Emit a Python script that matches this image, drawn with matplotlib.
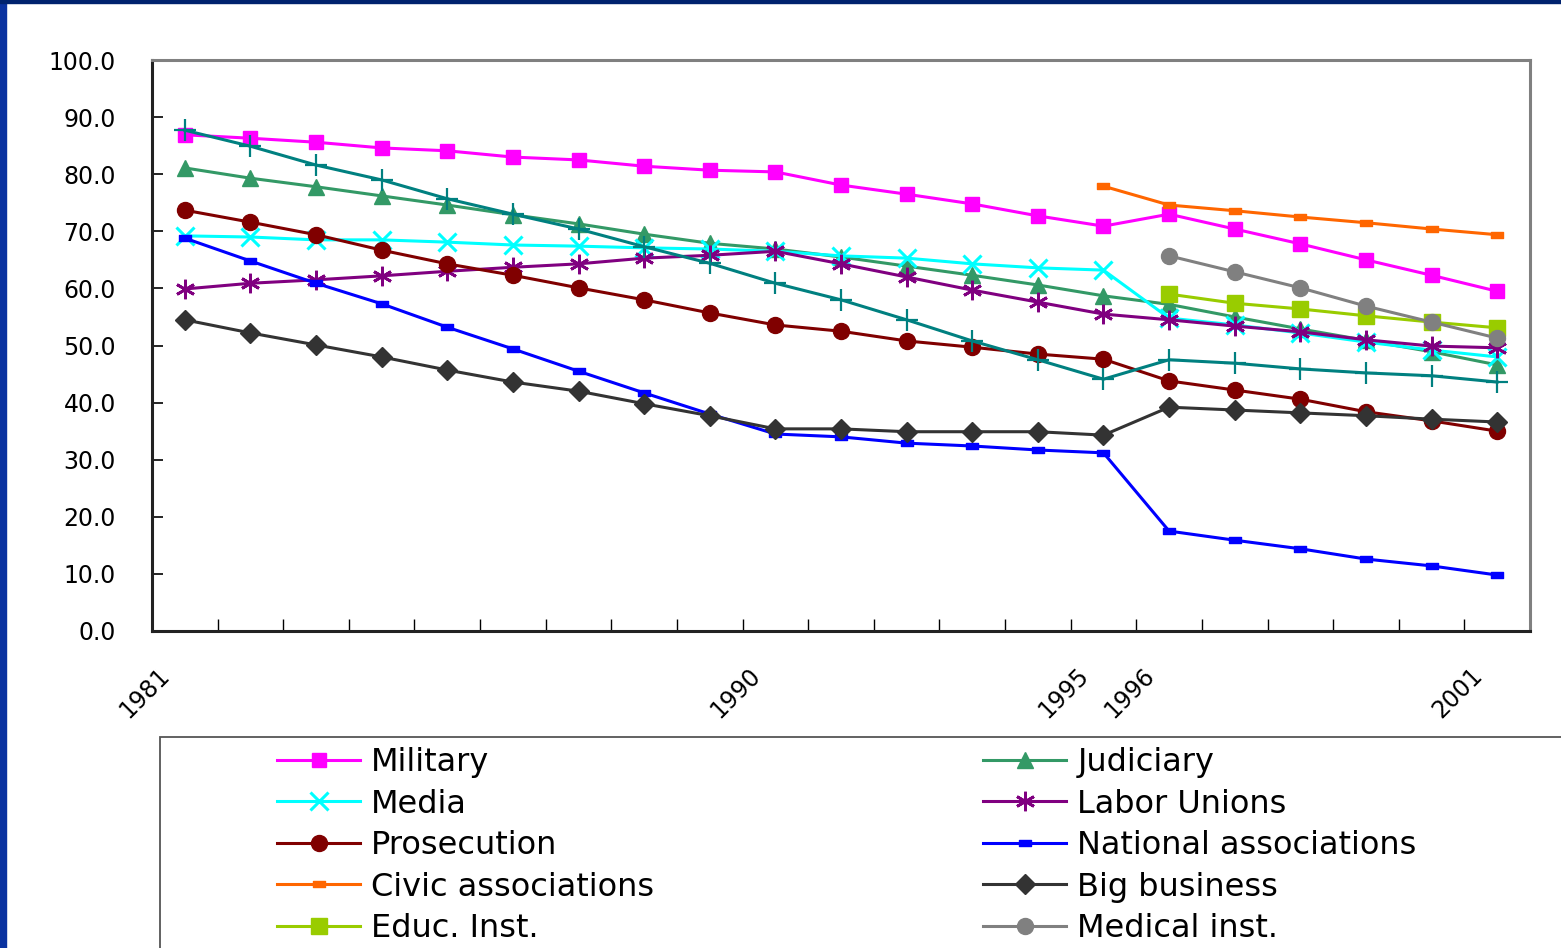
import numpy as np
import matplotlib
matplotlib.use("Agg")
import matplotlib.pyplot as plt
from matplotlib.patches import Rectangle
from matplotlib.path import Path
import matplotlib.transforms as mtransforms

nan = np.nan
years = list(range(1981, 2002))
shown_years = {1981: "1981", 1990: "1990", 1995: "1995", 1996: "1996", 2001: "2001"}

military = [86.9, 86.3, 85.6, 84.6, 84.1, 83.0, 82.5, 81.4, 80.7, 80.4, 78.1,
            76.5, 74.8, 72.7, 70.9, 73.0, 70.4, 67.8, 65.0, 62.3, 59.5]
judiciary = [81.1, 79.3, 77.8, 76.2, 74.6, 72.9, 71.3, 69.5, 67.9, 66.9, 65.5,
             63.9, 62.3, 60.6, 58.7, 57.2, 55.0, 52.9, 50.9, 48.9, 46.6]
media = [69.2, 69.0, 68.5, 68.5, 68.1, 67.6, 67.4, 67.1, 66.9, 66.5, 65.7,
         65.3, 64.3, 63.6, 63.2, 54.8, 53.6, 52.2, 50.6, 49.2, 48.0]
labor_unions = [59.9, 60.9, 61.5, 62.2, 63.0, 63.7, 64.3, 65.3, 65.8, 66.5, 64.3,
                62.0, 59.7, 57.6, 55.5, 54.5, 53.4, 52.4, 51.0, 49.9, 49.6]
prosecution = [73.7, 71.6, 69.4, 66.7, 64.3, 62.3, 60.1, 58.0, 55.7, 53.6, 52.5,
               50.8, 49.7, 48.5, 47.6, 43.8, 42.2, 40.6, 38.4, 36.8, 35.0]
national_assoc = [68.8, 64.8, 60.9, 57.3, 53.2, 49.4, 45.5, 41.7, 38.0, 34.5, 34.0,
                  32.9, 32.4, 31.7, 31.2, 17.5, 15.9, 14.4, 12.6, 11.4, 9.8]
civic_assoc = [nan] * 14 + [77.9, 74.6, 73.6, 72.5, 71.5, 70.4, 69.4]
big_business = [54.5, 52.2, 50.1, 48.0, 45.7, 43.6, 42.0, 39.8, 37.7, 35.4, 35.4,
                34.9, 34.9, 34.9, 34.3, 39.2, 38.7, 38.2, 37.7, 37.1, 36.6]
educ_inst = [nan] * 15 + [59.0, 57.4, 56.4, 55.2, 54.1, 53.1]
medical_inst = [nan] * 15 + [65.7, 62.9, 60.1, 56.9, 54.1, 51.3]
unlisted = [87.7, 84.9, 81.6, 79.0, 75.7, 73.0, 70.4, 67.3, 64.4, 60.9, 58.0,
            54.5, 50.8, 47.5, 44.1, 47.5, 46.9, 45.9, 45.2, 44.7, 43.6]

W, H = 1561, 948
fig = plt.figure(figsize=(W / 100, H / 100), dpi=100)
fig.patch.set_facecolor("white")

# blue slide border
fig.patches.append(Rectangle((0, 0), 6 / W, 1, transform=fig.transFigure,
                             color="#0a32a0", zorder=-2))
fig.patches.append(Rectangle((0, 1 - 3 / H), 1, 3 / H, transform=fig.transFigure,
                             color="#00226e", zorder=-2))

ax = fig.add_axes([152 / W, 1 - 631 / H, (1530 - 152) / W, (631 - 60) / H])
x = np.arange(len(years))

dash = Path([(-1, -0.55), (1, -0.55), (1, 0.55), (-1, 0.55), (-1, -0.55)],
            [Path.MOVETO, Path.LINETO, Path.LINETO, Path.LINETO, Path.CLOSEPOLY])

lw = 2.2
h = {}
h["Military"], = ax.plot(x, military, color="#ff00ff", lw=lw, marker="s", ms=10.5)
h["Judiciary"], = ax.plot(x, judiciary, color="#339966", lw=lw, marker="^", ms=12)
h["Media"], = ax.plot(x, media, color="#00ffff", lw=lw, marker="x", ms=13, mew=2.2)
h["Labor Unions"], = ax.plot(x, labor_unions, color="#800080", lw=lw,
                             marker=(6, 2, 0), ms=14, mew=2.0)
h["Prosecution"], = ax.plot(x, prosecution, color="#800000", lw=lw, marker="o", ms=11.5)
h["National associations"], = ax.plot(x, national_assoc, color="#0000ff", lw=lw,
                                      marker=dash, ms=8)
h["Civic associations"], = ax.plot(x, civic_assoc, color="#ff6600", lw=lw,
                                   marker=dash, ms=8)
h["Big business"], = ax.plot(x, big_business, color="#333333", lw=lw, marker="D", ms=10)
h["Educ. Inst."], = ax.plot(x, educ_inst, color="#99cc00", lw=lw, marker="s", ms=11)
h["Medical inst."], = ax.plot(x, medical_inst, color="#808080", lw=lw, marker="o", ms=11.5)
ax.plot(x, unlisted, color="#008080", lw=lw, marker="+", ms=16, mew=1.6)

ax.set_xlim(-0.5, len(years) - 0.5)
ax.set_ylim(0, 100)
ax.set_yticks(np.arange(0, 101, 10))
ax.set_yticklabels([f"{v:.1f}" for v in range(0, 101, 10)])
ax.tick_params(axis="y", direction="in", length=8, width=1.2, pad=26, labelsize=17,
               colors="black")

major = [i for i, y in enumerate(years) if y in shown_years]
ax.set_xticks(major)
ax.set_xticklabels([shown_years[years[i]] for i in major], rotation=45,
                   ha="right", va="top", rotation_mode="anchor")
ax.set_xticks(np.arange(-0.5, len(years) + 0.5, 1), minor=True)
ax.tick_params(axis="x", which="major", length=0, pad=23, labelsize=17)
ax.tick_params(axis="x", which="minor", direction="in", length=9, width=1.0)
off = mtransforms.ScaledTranslation(-27 / 100, 0, fig.dpi_scale_trans)
for lab in ax.get_xticklabels():
    lab.set_transform(lab.get_transform() + off)

for s in ["left", "bottom"]:
    ax.spines[s].set_color("#222222")
    ax.spines[s].set_linewidth(2.2)
for s in ["top", "right"]:
    ax.spines[s].set_color("#808080")
    ax.spines[s].set_linewidth(2.2)

# legend frame
fig.patches.append(Rectangle((160 / W, -0.1), 1.0, 0.1 + (948 - 737) / H,
                             transform=fig.transFigure, facecolor="white",
                             edgecolor="#555555", lw=1.3, zorder=-1))

col1 = ["Military", "Media", "Prosecution", "Civic associations", "Educ. Inst."]
col2 = ["Judiciary", "Labor Unions", "National associations", "Big business",
        "Medical inst."]
fs = 23
for names, x0 in [(col1, 277), (col2, 983)]:
    leg = fig.legend([h[n] for n in names], names, loc="upper left",
                     bbox_to_anchor=(x0 / W, 1 - 747 / H), frameon=False,
                     fontsize=fs, handlelength=2.6, handletextpad=0.35,
                     labelspacing=0.33, borderpad=0, borderaxespad=0)

fig.savefig("out.png", dpi=100)
